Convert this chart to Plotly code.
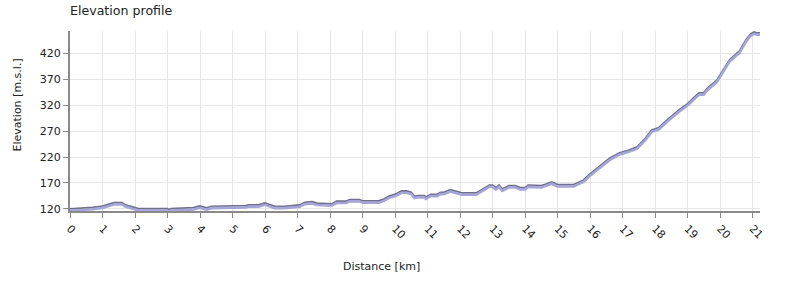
import plotly.graph_objects as go

distance_km = [0.0, 0.4, 0.7, 1.0, 1.22, 1.35, 1.6, 1.7, 1.9, 2.1, 3.0, 3.05, 3.1, 3.6, 3.8, 3.99, 4.2, 4.35, 4.75, 5.1, 5.4, 5.5, 5.8, 6.0,
               6.2, 6.3, 6.6, 7.0, 7.07, 7.22, 7.45, 7.6, 8.0, 8.05, 8.2, 8.5, 8.6, 8.9, 9.0, 9.5, 9.66, 9.8, 10.05, 10.2, 10.35,
               10.5, 10.6, 10.7, 10.9, 10.95, 11.1, 11.3, 11.4, 11.5, 11.7, 11.9, 12.05, 12.5, 12.7, 12.9, 13.0, 13.1, 13.2, 13.3,
               13.5, 13.7, 13.85, 14.0, 14.1, 14.4, 14.5, 14.65, 14.82, 15.0, 15.5, 15.58, 15.8, 16.0, 16.3, 16.6, 16.91, 17.2,
               17.45, 17.7, 17.9, 18.12, 18.4, 18.7, 19.0, 19.35, 19.5, 19.6, 19.9, 20.1, 20.3, 20.6, 20.8, 20.95, 21.05, 21.15, 21.23]
elevation_m = [120, 121, 123, 125.5, 129.5, 132, 132, 128, 124.5, 120.6, 120.6, 118, 120.5, 121, 122.5, 125.8, 122, 125, 125, 126.4, 126.4, 127.7, 127.7, 131.5,
               127.7, 125, 125, 127.7, 127.7, 132.8, 134, 131, 131, 129.6, 134.8, 134.8, 138, 138, 135.4, 135.4, 139, 144.4, 149.5, 154.6, 154.6,
               152, 144.4, 145.6, 145.6, 143, 148.2, 148.2, 152, 152, 157, 153.3, 150.8, 150.8, 158.5, 166, 166, 161, 166, 158.5,
               164.8, 164.8, 161, 161, 166, 166, 164.8, 168, 172, 166.8, 166.8, 169.4, 175.8, 187.3, 202.7, 217.5, 228.3, 233.5,
               239.8, 256, 272, 277, 293, 309, 323, 343.7, 343.7, 352, 368, 387, 408, 424.5, 446, 457.8, 461, 459, 460]

y_ticks = [120, 170, 220, 270, 320, 370, 420]
x_ticks = list(range(0, 22))

y_range = [116, 463]
shadow_shift = 3.5

W, H = 800, 300

fig = go.Figure()
fig.add_trace(go.Scatter(x=distance_km, y=elevation_m, mode="lines", yaxis="y2",
                         line=dict(color="#a5a5d8", width=2.6), hoverinfo="skip", showlegend=False))
fig.add_trace(go.Scatter(x=distance_km, y=elevation_m, mode="lines",
                         line=dict(color="#6f6f8d", width=1.8), showlegend=False))

fig.update_layout(
    width=W, height=H,
    margin=dict(l=70, r=40, t=31, b=89),
    paper_bgcolor="white", plot_bgcolor="white",
    font=dict(family="DejaVu Sans", size=11, color="#222"),
    title=dict(text="Elevation profile", x=70/W, xanchor="left", y=1 - 11/H, yanchor="middle",
               font=dict(size=12.6, color="#222")),
    xaxis=dict(range=[0, 21.23], tickvals=x_ticks, ticktext=[str(t) for t in x_ticks], tickangle=45,
               showgrid=True, gridcolor="#e6e6e6", gridwidth=1, zeroline=False,
               showline=True, linecolor="#8a8a8a", linewidth=2,
               ticks="outside", ticklen=5, tickcolor="#8a8a8a", tickwidth=1,
               tickfont=dict(size=11)),
    yaxis=dict(range=y_range, tickvals=y_ticks, showgrid=True, gridcolor="#e6e6e6", gridwidth=1, zeroline=False,
               showline=True, linecolor="#8a8a8a", linewidth=2,
               ticks="outside", ticklen=5, tickcolor="#8a8a8a", tickwidth=1,
               tickfont=dict(size=11)),
    yaxis2=dict(range=[y_range[0] + shadow_shift, y_range[1] + shadow_shift], overlaying="y",
                visible=False, showgrid=False),
    annotations=[
        dict(text="Distance [km]", xref="paper", yref="paper",
             x=(381 - 70) / (W - 110), y=-(266 - 211) / (H - 120),
             xanchor="center", yanchor="middle", showarrow=False, font=dict(size=11, color="#222")),
        dict(text="Elevation [m.s.l.]", xref="paper", yref="paper", textangle=-90,
             x=-(70 - 17) / (W - 110), y=(211 - 104.5) / (H - 120),
             xanchor="center", yanchor="middle", showarrow=False, font=dict(size=11, color="#222")),
    ],
)

fig.write_html("out.html")
